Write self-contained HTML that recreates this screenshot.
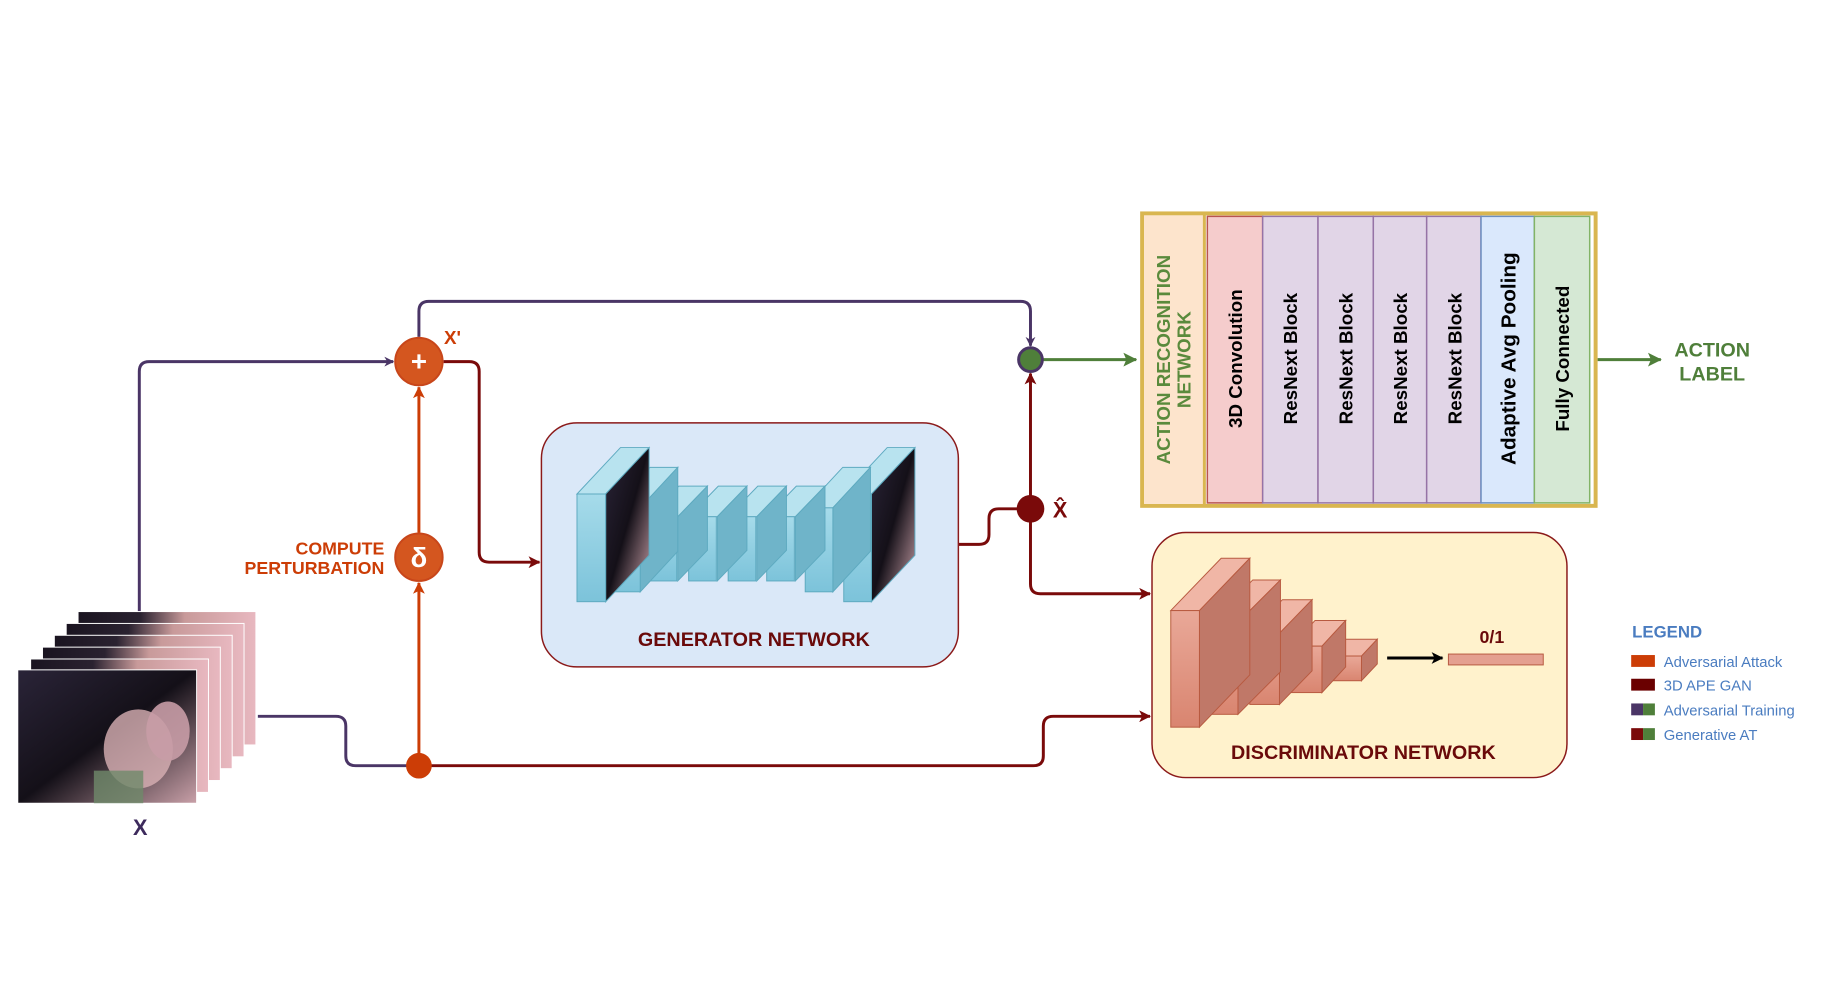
<!DOCTYPE html>
<html><head><meta charset="utf-8"><style>
html,body{margin:0;padding:0;background:#fff;}
body{width:1834px;height:1000px;overflow:hidden;font-family:"Liberation Sans Narrow","Liberation Sans",sans-serif;}
</style></head><body>
<svg width="1834" height="1000" viewBox="0 0 1834 1000" xmlns="http://www.w3.org/2000/svg">
<defs>
<linearGradient id="fr" x1="0" x2="1" y1="0" y2="0">
<stop offset="0" stop-color="#1a1420"/><stop offset="0.35" stop-color="#2a2230"/><stop offset="0.6" stop-color="#c89a9a"/><stop offset="1" stop-color="#e8b8c0"/></linearGradient>
<linearGradient id="img" x1="0" x2="1" y1="0" y2="1">
<stop offset="0" stop-color="#2a2438"/><stop offset="0.5" stop-color="#141018"/><stop offset="1" stop-color="#c9a0a8"/></linearGradient>
<linearGradient id="cy" x1="0" x2="0" y1="0" y2="1"><stop offset="0" stop-color="#a6dbea"/><stop offset="1" stop-color="#7cc3da"/></linearGradient>
<linearGradient id="pk" x1="0" x2="0" y1="0" y2="1"><stop offset="0" stop-color="#e9a898"/><stop offset="1" stop-color="#d98570"/></linearGradient>
<marker id="aP" markerWidth="10" markerHeight="10" refX="9" refY="5" orient="auto" markerUnits="userSpaceOnUse"><path d="M0,0 L10,5 L0,10 L3,5z" fill="#4a3566"/></marker>
<marker id="aR" markerWidth="12" markerHeight="12" refX="11" refY="6" orient="auto" markerUnits="userSpaceOnUse"><path d="M0,0 L12,6 L0,12 L3,6z" fill="#7a0a0a"/></marker>
<marker id="aO" markerWidth="12" markerHeight="12" refX="11" refY="6" orient="auto" markerUnits="userSpaceOnUse"><path d="M0,0 L12,6 L0,12 L3,6z" fill="#cc3d06"/></marker>
<marker id="aG" markerWidth="14" markerHeight="14" refX="13" refY="7" orient="auto" markerUnits="userSpaceOnUse"><path d="M0,0 L14,7 L0,14 L3,7z" fill="#4f7f3a"/></marker>
<marker id="aK" markerWidth="12" markerHeight="12" refX="11" refY="6" orient="auto" markerUnits="userSpaceOnUse"><path d="M0,0 L12,6 L0,12 L3,6z" fill="#000"/></marker>
</defs>
<g transform="scale(0.988)">
<g fill="none" stroke-width="3">
<path d="M141,627 V376 Q141,366 151,366 H398" stroke="#4a3566" marker-end="url(#aP)"/>
<path d="M424,341 V315 Q424,305 434,305 H1033 Q1043,305 1043,315 V350" stroke="#4a3566" marker-end="url(#aP)"/>
<path d="M261,725 H340 Q350,725 350,735 V765 Q350,775 360,775 H424" stroke="#4a3566"/>
<path d="M424,775 V590" stroke="#cc3d06" marker-end="url(#aO)"/>
<path d="M424,539 V392" stroke="#cc3d06" marker-end="url(#aO)"/>
<path d="M449,366 H475 Q485,366 485,376 V559 Q485,569 495,569 H546" stroke="#7a0a0a" marker-end="url(#aR)"/>
<path d="M970,551 H991 Q1001,551 1001,541 V525 Q1001,515 1011,515 H1043" stroke="#7a0a0a"/>
<path d="M1043,515 V378" stroke="#7a0a0a" marker-end="url(#aR)"/>
<path d="M1043,515 V591 Q1043,601 1053,601 H1164" stroke="#7a0a0a" marker-end="url(#aR)"/>
<path d="M424,775 H1046 Q1056,775 1056,765 V735 Q1056,725 1066,725 H1164" stroke="#7a0a0a" marker-end="url(#aR)"/>
<path d="M1056,364 H1150" stroke="#4f7f3a" marker-end="url(#aG)"/>
<path d="M1617,364 H1681" stroke="#4f7f3a" marker-end="url(#aG)"/>
</g>

<g stroke="#fff" stroke-width="1">
<rect x="79" y="619" width="180" height="135" fill="url(#fr)"/>
<rect x="67" y="631" width="180" height="135" fill="url(#fr)"/>
<rect x="55" y="643" width="180" height="135" fill="url(#fr)"/>
<rect x="43" y="655" width="180" height="135" fill="url(#fr)"/>
<rect x="31" y="667" width="180" height="135" fill="url(#fr)"/>
<rect x="18" y="678" width="181" height="135" fill="url(#img)"/>
</g>
<ellipse cx="140" cy="758" rx="35" ry="40" fill="#d8b0b4" opacity="0.8"/>
<ellipse cx="170" cy="740" rx="22" ry="30" fill="#c89ca6" opacity="0.9"/>
<rect x="95" y="780" width="50" height="33" fill="#6f8a6a" opacity="0.8"/>
<text x="142" y="845" font-size="22" font-weight="bold" fill="#3d2a5c" text-anchor="middle">X</text>

<circle cx="424" cy="366" r="24" fill="#d4561f" stroke="#c8461a" stroke-width="2"/>
<text x="424" y="375" font-size="28" font-weight="bold" fill="#fff" text-anchor="middle">+</text>
<circle cx="424" cy="564" r="24" fill="#d4561f" stroke="#c8461a" stroke-width="2"/>
<text x="424" y="574" font-size="28" font-weight="bold" fill="#fff" text-anchor="middle" font-family="Liberation Sans, DejaVu Sans, sans-serif">δ</text>
<circle cx="424" cy="775" r="13" fill="#cc3d06"/>
<text x="458" y="348" font-size="19" font-weight="bold" fill="#cc3d06" text-anchor="middle">X'</text>
<text x="389" y="561" font-size="18" font-weight="bold" fill="#cc3d06" text-anchor="end">COMPUTE</text>
<text x="389" y="581" font-size="18" font-weight="bold" fill="#cc3d06" text-anchor="end">PERTURBATION</text>
<circle cx="1043" cy="364" r="12" fill="#4f7f3a" stroke="#4a3566" stroke-width="3"/>
<circle cx="1043" cy="515" r="14" fill="#7a0a0a"/>
<text x="1073" y="524" font-size="22" font-weight="bold" fill="#7a0a0a" text-anchor="middle">X̂</text>

<rect x="548" y="428" width="422" height="247" rx="36" fill="#dae8f8" stroke="#8b1a1a" stroke-width="1.5"/>
<text x="763" y="654" font-size="20" font-weight="bold" fill="#6a0a0a" text-anchor="middle">GENERATOR NETWORK</text>
<g stroke="#5eaac0" stroke-width="1" transform="translate(8,0)">
<polygon points="846,500 890,453 918,453 874,500" fill="#b8e3ef"/>
<polygon points="874,500 918,453 918,562 874,609" fill="url(#img)"/>
<rect x="846" y="500" width="28" height="109" fill="url(#cy)"/>
<polygon points="807,514 845,473 873,473 835,514" fill="#b8e3ef"/>
<polygon points="835,514 873,473 873,558 835,599" fill="#6fb4c9"/>
<rect x="807" y="514" width="28" height="85" fill="url(#cy)"/>
<polygon points="768,523 798,492 827,492 797,523" fill="#b8e3ef"/>
<polygon points="797,523 827,492 827,557 797,588" fill="#6fb4c9"/>
<rect x="768" y="523" width="28" height="65" fill="url(#cy)"/>
<polygon points="729,523 759,492 788,492 758,523" fill="#b8e3ef"/>
<polygon points="758,523 788,492 788,557 758,588" fill="#6fb4c9"/>
<rect x="729" y="523" width="28" height="65" fill="url(#cy)"/>
<polygon points="689,523 719,492 748,492 718,523" fill="#b8e3ef"/>
<polygon points="718,523 748,492 748,557 718,588" fill="#6fb4c9"/>
<rect x="689" y="523" width="28" height="65" fill="url(#cy)"/>
<polygon points="649,523 679,492 708,492 678,523" fill="#b8e3ef"/>
<polygon points="678,523 708,492 708,557 678,588" fill="#6fb4c9"/>
<rect x="649" y="523" width="28" height="65" fill="url(#cy)"/>
<polygon points="612,514 650,473 678,473 640,514" fill="#b8e3ef"/>
<polygon points="640,514 678,473 678,558 640,599" fill="#6fb4c9"/>
<rect x="612" y="514" width="28" height="85" fill="url(#cy)"/>
<polygon points="576,500 620,453 649,453 605,500" fill="#b8e3ef"/>
<polygon points="605,500 649,453 649,562 605,609" fill="url(#img)"/>
<rect x="576" y="500" width="29" height="109" fill="url(#cy)"/>
</g>

<rect x="1156" y="216" width="459" height="296" fill="none" stroke="#d9b650" stroke-width="4"/>
<rect x="1158" y="218" width="60" height="292" fill="#fde4cc"/>
<line x1="1219" y1="216" x2="1219" y2="512" stroke="#d9b650" stroke-width="3"/>
<g stroke-width="1.5">
<rect x="1222" y="219" width="56" height="290" fill="#f5cccc" stroke="#b85450"/>
<rect x="1278" y="219" width="56" height="290" fill="#e1d5e7" stroke="#9673a6"/>
<rect x="1334" y="219" width="56" height="290" fill="#e1d5e7" stroke="#9673a6"/>
<rect x="1390" y="219" width="54" height="290" fill="#e1d5e7" stroke="#9673a6"/>
<rect x="1444" y="219" width="55" height="290" fill="#e1d5e7" stroke="#9673a6"/>
<rect x="1499" y="219" width="54" height="290" fill="#dae8fc" stroke="#6c8ebf"/>
<rect x="1553" y="219" width="56" height="290" fill="#d5e8d4" stroke="#82b366"/>
</g>
<g font-family="Liberation Sans, sans-serif" font-weight="bold" fill="#000" text-anchor="middle">
<text transform="translate(1257,363) rotate(-90)" font-size="19">3D Convolution</text>
<text transform="translate(1313,363) rotate(-90)" font-size="19">ResNext Block</text>
<text transform="translate(1369,363) rotate(-90)" font-size="19">ResNext Block</text>
<text transform="translate(1424,363) rotate(-90)" font-size="19">ResNext Block</text>
<text transform="translate(1479,363) rotate(-90)" font-size="19">ResNext Block</text>
<text transform="translate(1534,363) rotate(-90)" font-size="21">Adaptive Avg Pooling</text>
<text transform="translate(1588,363) rotate(-90)" font-size="19">Fully Connected</text>
<text transform="translate(1184,364) rotate(-90)" font-size="19" fill="#5a8a3c">ACTION RECOGNITION</text>
<text transform="translate(1205,364) rotate(-90)" font-size="19" fill="#5a8a3c">NETWORK</text>
</g>
<text x="1733" y="361" font-size="20" font-weight="bold" fill="#4f7f3a" text-anchor="middle">ACTION</text>
<text x="1733" y="385" font-size="20" font-weight="bold" fill="#4f7f3a" text-anchor="middle">LABEL</text>

<rect x="1166" y="539" width="420" height="248" rx="34" fill="#fff2cc" stroke="#8b1a1a" stroke-width="1.5"/>
<text x="1380" y="768" font-size="20" font-weight="bold" fill="#6a0a0a" text-anchor="middle">DISCRIMINATOR NETWORK</text>
<g stroke="#b85a40" stroke-width="1" transform="translate(14,0)">
<polygon points="1332,664 1348,647 1380,647 1364,664" fill="#f0b6a6"/>
<polygon points="1364,664 1380,647 1380,672 1364,689" fill="#c07868"/>
<rect x="1332" y="664" width="32" height="25" fill="url(#pk)"/>
<polygon points="1293,654 1317,628 1348,628 1324,654" fill="#f0b6a6"/>
<polygon points="1324,654 1348,628 1348,675 1324,701" fill="#c07868"/>
<rect x="1293" y="654" width="31" height="47" fill="url(#pk)"/>
<polygon points="1251,641 1284,607 1314,607 1281,641" fill="#f0b6a6"/>
<polygon points="1281,641 1314,607 1314,679 1281,713" fill="#c07868"/>
<rect x="1251" y="641" width="30" height="72" fill="url(#pk)"/>
<polygon points="1211,630 1254,587 1282,587 1239,630" fill="#f0b6a6"/>
<polygon points="1239,630 1282,587 1282,680 1239,723" fill="#c07868"/>
<rect x="1211" y="630" width="28" height="93" fill="url(#pk)"/>
<polygon points="1171,618 1222,565 1251,565 1200,618" fill="#f0b6a6"/>
<polygon points="1200,618 1251,565 1251,683 1200,736" fill="#c07868"/>
<rect x="1171" y="618" width="29" height="118" fill="url(#pk)"/>
</g>
<rect x="1466" y="662" width="96" height="11" fill="#e4a090" stroke="#b85a40" stroke-width="1"/>
<path d="M1404,666 H1460" stroke="#000" stroke-width="3" marker-end="url(#aK)"/>
<text x="1510" y="651" font-size="18" font-weight="bold" fill="#6a0a0a" text-anchor="middle">0/1</text>

<text x="1652" y="645" font-size="17" font-weight="bold" fill="#4a7cc0">LEGEND</text>
<rect x="1651" y="663" width="24" height="12" fill="#cc3d06"/>
<rect x="1651" y="687" width="24" height="12" fill="#6a0000"/>
<rect x="1651" y="712" width="12" height="12" fill="#4a3566"/><rect x="1663" y="712" width="12" height="12" fill="#4f7f3a"/>
<rect x="1651" y="737" width="12" height="12" fill="#7a0a0a"/><rect x="1663" y="737" width="12" height="12" fill="#4f7f3a"/>
<g font-size="15" fill="#4a7cc0">
<text x="1684" y="675">Adversarial Attack</text>
<text x="1684" y="699">3D APE GAN</text>
<text x="1684" y="724">Adversarial Training</text>
<text x="1684" y="749">Generative AT</text>
</g>
</g>
</svg>
</body></html>
